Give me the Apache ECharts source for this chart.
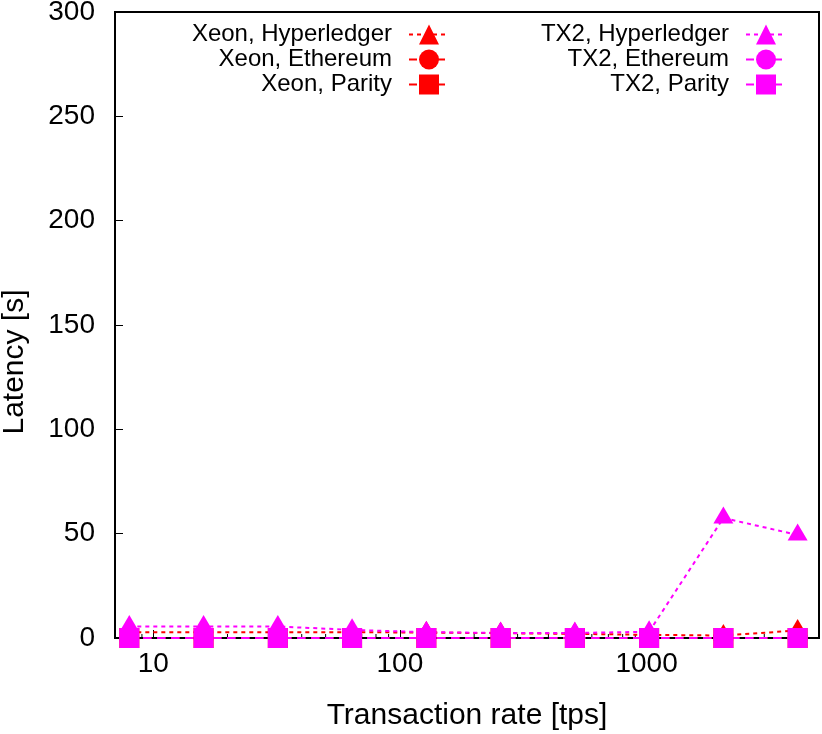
<!DOCTYPE html>
<html>
<head>
<meta charset="utf-8">
<title>Latency vs transaction rate</title>
<script src="https://cdn.jsdelivr.net/npm/echarts@6/dist/echarts.min.js"></script>
<style>
  html, body { margin: 0; padding: 0; background: #fff; }
  #main { width: 822px; height: 734px; }
</style>
</head>
<body>
<div id="main"></div>
<script>
// transaction rates [tps]
const rates = [8, 16, 32, 64, 128, 256, 512, 1024, 2048, 4096]

// latency [s]
const xeonHyperledger = [2.8, 2.8, 2.8, 2.8, 2.6, 2.3, 2.0, 1.5, 1.2, 3.6]
const xeonEthereum = [0, 0, 0, 0, 0, 0, 0, 0, 0, 0]
const xeonParity = [0, 0, 0, 0, 0, 0, 0, 0, 0, 0]
const tx2Hyperledger = [5.5, 5.5, 5.5, 3.9, 2.8, 2.4, 2.4, 3.0, 57.5, 49.4]
const tx2Ethereum = [0, 0, 0, 0, 0, 0, 0, 0, 0, 0]
const tx2Parity = [0, 0, 0, 0, 0, 0, 0, 0, 0, 0]

// log axis minor ticks (2..9 x 10^n)
const minorTicks = [8, 9, 20, 30, 40, 50, 60, 70, 80, 90, 200, 300, 400, 500, 600, 700, 800, 900, 2000, 3000, 4000]

const RED = '#ff0000'
const MAGENTA = '#ff00ff'
const FONT = 'Liberation Sans, Arial, sans-serif'

function lineSeries(name, values, color, symbol, size, dash) {
  return {
    name: name,
    type: 'line',
    data: rates.map((r, i) => [r, values[i]]),
    symbol: symbol,
    symbolSize: size,
    symbolOffset: symbol === 'triangle' ? [0, -3] : [0, 0],
    itemStyle: { color: color },
    lineStyle: { color: color, width: 2, type: dash },
    clip: false,
    animation: false
  }
}

// one legend per entry so that every entry is right aligned like gnuplot's key
function legendItem(name, right, center) {
  return {
    data: [name],
    right: right,
    top: center - 12.5,
    padding: 0,
    orient: 'vertical',
    align: 'right',
    itemWidth: 40,
    itemHeight: 25,
    selectedMode: false,
    textStyle: { fontFamily: FONT, fontSize: 24, color: '#000', padding: [0, 12, 0, 0] }
  }
}

const chart = echarts.init(document.getElementById('main'))

const option = {
  backgroundColor: '#fff',
  animation: false,
  textStyle: { fontFamily: FONT },
  legend: [
    legendItem('Xeon, Hyperledger', 372, 35),
    legendItem('Xeon, Ethereum', 372, 60),
    legendItem('Xeon, Parity', 372, 85),
    legendItem('TX2, Hyperledger', 35, 35),
    legendItem('TX2, Ethereum', 35, 60),
    legendItem('TX2, Parity', 35, 85)
  ],
  grid: {
    left: 115,
    right: 3,
    top: 12,
    bottom: 96,
    outerBoundsMode: 'none',
    show: true,
    borderColor: '#000',
    borderWidth: 2
  },
  xAxis: {
    type: 'log',
    logBase: 10,
    min: 7,
    max: 5000,
    name: 'Transaction rate [tps]',
    nameLocation: 'middle',
    nameGap: 63,
    nameTextStyle: { fontFamily: FONT, fontSize: 30, color: '#000' },
    axisLine: { show: false },
    axisTick: { show: true, inside: true, length: 8, lineStyle: { color: '#000', width: 1 } },
    axisLabel: {
      fontFamily: FONT,
      fontSize: 28,
      color: '#000',
      margin: 12,
      showMinLabel: false,
      showMaxLabel: false,
      formatter: v => String(Math.round(v))
    },
    splitLine: { show: false }
  },
  yAxis: {
    type: 'value',
    min: 0,
    max: 300,
    interval: 50,
    name: 'Latency [s]',
    nameLocation: 'middle',
    nameGap: 85,
    nameTextStyle: { fontFamily: FONT, fontSize: 30, color: '#000', padding: [0, 74, 0, 0] },
    axisLine: { show: false },
    axisTick: { show: true, inside: true, length: 8, lineStyle: { color: '#000', width: 1 } },
    axisLabel: { fontFamily: FONT, fontSize: 28, color: '#000', margin: 20 },
    splitLine: { show: false }
  },
  series: [
    {
      // minor ticks of the log axis
      type: 'custom',
      silent: true,
      z: 1,
      data: minorTicks.map(v => [v, 0]),
      renderItem: (params, api) => {
        const p = api.coord([api.value(0), 0])
        return {
          type: 'line',
          shape: { x1: p[0], y1: p[1], x2: p[0], y2: p[1] - 4 },
          style: { stroke: '#000', lineWidth: 1 }
        }
      }
    },
    lineSeries('Xeon, Hyperledger', xeonHyperledger, RED, 'triangle', [20, 17], [4, 4]),
    lineSeries('Xeon, Ethereum', xeonEthereum, RED, 'circle', 20, [8, 6]),
    lineSeries('Xeon, Parity', xeonParity, RED, 'rect', 20, [8, 6]),
    lineSeries('TX2, Hyperledger', tx2Hyperledger, MAGENTA, 'triangle', [20, 17], [4, 4]),
    lineSeries('TX2, Ethereum', tx2Ethereum, MAGENTA, 'circle', 20, [8, 6]),
    lineSeries('TX2, Parity', tx2Parity, MAGENTA, 'rect', 20, [8, 6])
  ]
}

chart.setOption(option)
</script>
</body>
</html>
